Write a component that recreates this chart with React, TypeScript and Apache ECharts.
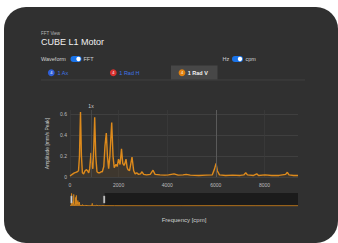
import React, { useEffect, useRef } from "react";
import * as echarts from "echarts";

const freqCpm = [
  0, 60, 120, 180, 240, 300, 350, 390, 432, 470, 510, 560, 620, 680, 720, 770, 810, 864, 900, 940,
  980, 1016, 1060, 1110, 1160, 1220, 1280, 1330, 1390, 1440, 1494, 1540, 1590, 1640, 1716, 1770,
  1820, 1893, 1940, 1996, 2060, 2119, 2170, 2222, 2260, 2304, 2350, 2387, 2450, 2551, 2620, 2680,
  2745, 2820, 2900, 2963, 3030, 3150, 3300, 3415, 3500, 3700, 3900, 4050, 4280, 4450, 4650, 4780,
  4950, 5300, 5600, 5850, 5950, 6008, 6060, 6150, 6400, 6700, 7000, 7150, 7230, 7300, 7550, 7683,
  7760, 8024, 8300, 8600, 8870, 8942, 9010, 9200, 9380, 12000, 20000, 30000, 40000, 50000, 61600,
];
const amplitude = [
  0.01, 0.02, 0.03, 0.04, 0.045, 0.05, 0.06, 0.2, 0.62, 0.2, 0.04, 0.03, 0.06, 0.07, 0.06, 0.04, 0.08,
  0.23, 0.1, 0.08, 0.3, 0.57, 0.2, 0.05, 0.04, 0.04, 0.05, 0.05, 0.1, 0.3, 0.42, 0.2, 0.08, 0.2, 0.52,
  0.2, 0.09, 0.12, 0.1, 0.17, 0.12, 0.27, 0.13, 0.11, 0.13, 0.17, 0.09, 0.07, 0.06, 0.19, 0.06, 0.03,
  0.04, 0.025, 0.03, 0.05, 0.025, 0.02, 0.025, 0.065, 0.025, 0.02, 0.018, 0.02, 0.03, 0.018, 0.02,
  0.025, 0.018, 0.015, 0.018, 0.02, 0.08, 0.13, 0.06, 0.02, 0.015, 0.018, 0.015, 0.02, 0.04, 0.02,
  0.015, 0.03, 0.015, 0.02, 0.015, 0.015, 0.025, 0.045, 0.02, 0.015, 0.015, 0.012, 0.01, 0.01, 0.012,
  0.01, 0.01,
];
const oneX = 864;
const highlightFreq = 6000;
const viewEnd = 9380;
const fullEnd = 61600;
const yTicks = ["0", "0.2", "0.4", "0.6"];
const tabs = ["1 Ax", "1 Rad H", "1 Rad V"];
const tabBadges = ["4", "4", "4"];

const FONT = "Liberation Sans, Arial, sans-serif";
const ORANGE = "#dd8a1c";

export default function App() {
  const ref = useRef<HTMLDivElement>(null);
  useEffect(() => {
    if (!ref.current) return;
    const chart = echarts.init(ref.current, null, { renderer: "svg" });
    const data = freqCpm.map((f, i) => [f, amplitude[i]]);
    const txt = (text: string, x: number, y: number, size: number, fill: string, weight = "normal") => ({
      type: "text",
      x,
      y,
      style: { text, fill, fontSize: size, fontFamily: FONT, fontWeight: weight, align: "left", verticalAlign: "middle" },
    });
    const toggle = (x: number, y: number) => [
      { type: "rect", shape: { x, y: y - 3, width: 11, height: 6, r: 3 }, style: { fill: "#1a73e8" } },
      { type: "circle", shape: { cx: x + 8, cy: y, r: 2.2 }, style: { fill: "#ffffff" } },
    ];
    const badge = (cx: number, cy: number, color: string, label: string) => [
      { type: "circle", shape: { cx, cy, r: 3.4 }, style: { fill: color } },
      {
        type: "text",
        x: cx,
        y: cy,
        style: { text: label, fill: "#fff", fontSize: 4, fontFamily: FONT, align: "center", verticalAlign: "middle" },
      },
    ];
    chart.setOption({
      animation: false,
      backgroundColor: "transparent",
      textStyle: { fontFamily: FONT },
      graphic: [
        txt("FFT View", 41, 33, 4.5, "#b8b8b8"),
        txt("CUBE L1 Motor", 41, 42, 9, "#f0f0f0"),
        txt("Waveform", 41, 59, 5.5, "#d0d0d0"),
        ...toggle(70.5, 59),
        txt("FFT", 83.5, 59, 5.5, "#d0d0d0"),
        txt("Hz", 222.5, 59, 5.5, "#d0d0d0"),
        ...toggle(232, 59),
        txt("cpm", 245.5, 59, 5.5, "#d0d0d0"),
        { type: "rect", shape: { x: 171, y: 65.5, width: 46.5, height: 14 }, style: { fill: "#474747" } },
        { type: "line", shape: { x1: 41, y1: 80, x2: 305, y2: 80 }, style: { stroke: "#444", lineWidth: 0.8 } },
        ...badge(51.3, 72.7, "#2f5fd8", tabBadges[0]),
        txt(tabs[0], 57.5, 72.7, 5.5, "#3f74e6"),
        ...badge(113.3, 72.7, "#d9302e", tabBadges[1]),
        txt(tabs[1], 119.3, 72.7, 5.5, "#3f74e6"),
        ...badge(182, 72.7, "#e0800f", tabBadges[2]),
        txt(tabs[2], 187.7, 72.7, 5.5, "#f2f2f2", "bold"),
      ],
      grid: [
        { left: 70, right: 40, top: 110, bottom: 66 },
        { left: 70, right: 40, top: 193, height: 13 },
      ],
      xAxis: [
        {
          type: "value",
          gridIndex: 0,
          min: 0,
          max: fullEnd,
          interval: 2000,
          name: "Frequency [cpm]",
          nameLocation: "middle",
          nameGap: 40,
          nameTextStyle: { color: "#cfcfcf", fontSize: 6 },
          axisLine: { show: false },
          axisTick: { show: false },
          axisLabel: { color: "#bdbdbd", fontSize: 5, margin: 5, showMaxLabel: false, formatter: (v: number) => String(v) },
          splitLine: { show: true, showMaxLine: false, lineStyle: { color: "#3b3b3b", width: 0.8 } },
        },
        {
          type: "value",
          gridIndex: 1,
          min: 0,
          max: fullEnd,
          show: false,
        },
      ],
      yAxis: [
        {
          type: "value",
          gridIndex: 0,
          min: 0,
          max: 0.64,
          interval: 0.2,
          name: "Amplitude [mm/s Peak]",
          nameLocation: "middle",
          nameGap: 16,
          nameTextStyle: { color: "#c8c8c8", fontSize: 5 },
          axisLine: { show: false },
          axisTick: { show: false },
          axisLabel: {
            color: "#bdbdbd",
            fontSize: 5,
            margin: 3,
            showMaxLabel: false,
            formatter: (v: number) => {
              const idx = Math.round(v / 0.2);
              return Math.abs(v - idx * 0.2) < 1e-6 ? yTicks[idx] ?? "" : "";
            },
          },
          splitLine: { show: true, showMaxLine: false, lineStyle: { color: "#444", width: 0.8 } },
        },
        { type: "value", gridIndex: 1, min: 0, max: 0.64, show: false },
      ],
      dataZoom: [
        {
          type: "slider",
          xAxisIndex: 0,
          startValue: 0,
          endValue: viewEnd,
          left: 70,
          right: 40,
          top: 193,
          height: 13,
          backgroundColor: "transparent",
          borderColor: "transparent",
          fillerColor: "transparent",
          showDataShadow: false,
          handleIcon: "path://M0,0L2,0L2,10L0,10Z",
          handleSize: "55%",
          handleStyle: { color: "#e6e6e6", borderColor: "#999", borderWidth: 0.5 },
          moveHandleSize: 0,
          showDetail: false,
          brushSelect: false,
        },
      ],
      series: [
        {
          type: "line",
          xAxisIndex: 0,
          yAxisIndex: 0,
          data,
          showSymbol: false,
          symbol: "none",
          lineStyle: { color: ORANGE, width: 1.4 },
          itemStyle: { color: ORANGE },
          areaStyle: { color: "rgba(221,138,28,0.12)" },
          markLine: {
            silent: true,
            symbol: "none",
            animation: false,
            data: [
              {
                xAxis: oneX,
                lineStyle: { color: "#4c4c4c", type: "solid", width: 0.8 },
                label: { show: true, formatter: "1x", position: "end", color: "#cfcfcf", fontSize: 5, distance: 2 },
              },
              {
                xAxis: highlightFreq,
                lineStyle: { color: "#5a5a5a", type: "solid", width: 1 },
                label: { show: false },
              },
            ],
          },
        },
        {
          type: "line",
          xAxisIndex: 1,
          yAxisIndex: 1,
          data,
          showSymbol: false,
          symbol: "none",
          silent: true,
          lineStyle: { color: ORANGE, width: 0.8 },
          areaStyle: { color: ORANGE, opacity: 0.75 },
          markArea: {
            silent: true,
            itemStyle: { color: "#1b1b1b", opacity: 1 },
            data: [[{ xAxis: viewEnd }, { xAxis: fullEnd }]],
          },
        },
      ],
    });
    return () => chart.dispose();
  }, []);
  return (
    <div style={{ position: "fixed", left: 0, top: 0, width: 338, height: 243, background: "#fff", overflow: "hidden" }}>
      <div
        style={{ position: "absolute", left: 4, top: 7, width: 334, height: 236, borderRadius: 22, background: "#303030" }}
      />
      <div ref={ref} style={{ position: "absolute", left: 0, top: 0, width: 338, height: 243 }} />
    </div>
  );
}
